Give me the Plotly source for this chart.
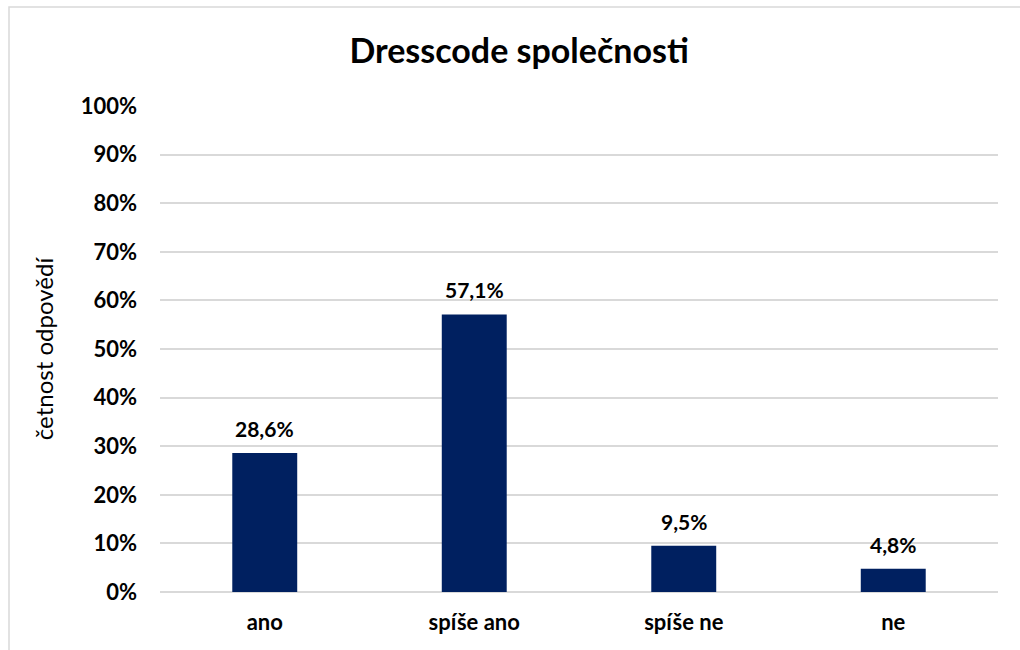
import plotly.graph_objects as go

categories = ["ano", "spíše ano", "spíše ne", "ne"]
values = [0.286, 0.571, 0.095, 0.048]
tick_vals = [0, 0.1, 0.2, 0.3, 0.4, 0.5, 0.6, 0.7, 0.8, 0.9, 1.0]
tick_text = ["0%", "10%", "20%", "30%", "40%", "50%", "60%", "70%", "80%", "90%", "100%"]

FONT = "Lato"
fig = go.Figure()
fig.add_trace(go.Bar(
    x=categories, y=values, marker=dict(color="#002060", line=dict(width=0)),
    hoverinfo="skip",
))
for c, v in zip(categories, values):
    fig.add_annotation(
        x=c, y=v, text=f"{v*100:.1f}%".replace(".", ","), showarrow=False,
        yanchor="bottom", yshift=10,
        font=dict(family=FONT, size=21, color="#000000", weight="bold"),
    )

L, R, T, B = 160, 22, 106, 57.5
W, H = 1020, 650
pw, ph = W - L - R, H - T - B
fig.add_shape(
    type="rect", xref="paper", yref="paper",
    x0=(9 - L) / pw, x1=(W + 20 - L) / pw,
    y0=-(B + 20) / ph, y1=(H - B - 7) / ph,
    line=dict(color="#d9d9d9", width=1.5), fillcolor="rgba(0,0,0,0)", layer="below",
)

fig.update_layout(
    width=W, height=H, margin=dict(l=L, r=R, t=T, b=B),
    plot_bgcolor="white", paper_bgcolor="white",
    separators=", ",
    bargap=0.69, showlegend=False,
    title=dict(text="<b>Dresscode společnosti</b>", x=0.509, xanchor="center",
               y=1 - 51 / H, yanchor="middle",
               font=dict(family=FONT, size=34, color="#000000")),
    xaxis=dict(showgrid=False, showline=False, zeroline=False, ticks="",
               ticklabelstandoff=15,
               tickfont=dict(family=FONT, size=22, color="#000000", weight="bold")),
    yaxis=dict(range=[0, 1.0], tickvals=tick_vals, ticktext=tick_text,
               showgrid=True, gridcolor="#d9d9d9", gridwidth=1.5,
               zeroline=True, zerolinecolor="#d9d9d9", zerolinewidth=1.5,
               showline=False, ticks="", ticklabelstandoff=22,
               tickfont=dict(family=FONT, size=22, color="#000000", weight="bold"),
               title=dict(text="četnost odpovědí", standoff=20,
                          font=dict(family=FONT, size=24, color="#000000"))),
)
fig.write_html("out.html")
